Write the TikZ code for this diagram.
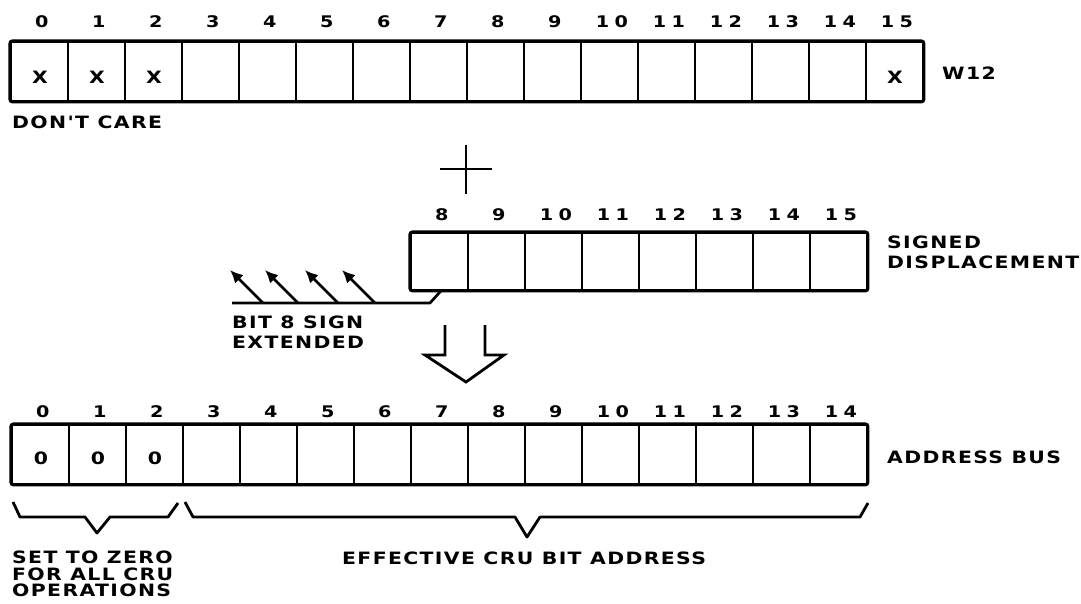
\documentclass[tikz,border=0pt]{standalone}
\usepackage{fontspec}
\usetikzlibrary{arrows.meta,calc}
% wide, heavy lettering for labels and bit numbers
\newfontfamily\lettering{DejaVu Sans Bold}[FakeStretch=1.2,LetterSpace=8]
\newfontfamily\numbering{DejaVu Sans Bold}[FakeStretch=1.2,LetterSpace=34]

\tikzset{
  cell/.style={draw, line width=1.8pt, minimum width=57pt, minimum height=59pt,
               inner sep=0pt, anchor=north west},
  frame/.style={line width=3.2pt, rounded corners=2.5pt},
  lbl/.style={font=\lettering\fontsize{17}{16.5}\selectfont,
              inner sep=0pt, anchor=west, align=left},
  num/.style={font=\numbering\fontsize{16}{16}\selectfont,
              inner sep=0pt, xshift=2.5pt},
  bitval/.style={font=\lettering\fontsize{17}{16}\selectfont,
                 inner sep=0pt, xshift=0.5pt},
  plusline/.style={line width=2.4pt},
  ext/.style={line width=2.7pt, line join=round},
  extarrow/.style={line width=2.7pt, -{Latex[length=13pt,width=12pt]}},
  bigarrow/.style={line width=2.8pt, line join=miter},
  brace/.style={line width=2.8pt, line join=round},
}

\begin{document}
\begin{tikzpicture}[x=1pt,y=-1pt]
\useasboundingbox (0,0) rectangle (1081,603);

% ---- register W12 ----
\foreach \i in {0,...,15}{
  \node[cell] (t\i) at ({10+57*\i},41) {};
  \node[num] (tn\i) at (t\i.north |- 0,22) {\i};
}
\draw[frame] (t0.north west) rectangle (t15.south east);
\foreach \i in {0,1,2,15}
  \node[bitval] (tx\i) at ([yshift=-5.5pt]t\i.center) {X};
\node[lbl] (w12) at (942,73) {W12};
\node[lbl] (dontcare) at (12,122) {DON'T CARE};

% ---- plus sign ----
\coordinate (plus) at (466,169);
\draw[plusline] ($(plus)+(-26,0)$) -- ($(plus)+(26,0)$);
\draw[plusline] ($(plus)+(0,-24)$) -- ($(plus)+(0,25)$);

% ---- signed displacement ----
\foreach \b in {8,...,15}{
  \node[cell, minimum height=57pt] (m\b) at ({410+57*(\b-8)},232) {};
  \node[num] (mn\b) at (m\b.north |- 0,215) {\b};
}
\draw[frame] (m8.north west) rectangle (m15.south east);
\node[lbl, anchor=north west, font=\lettering\fontsize{17}{20}\selectfont]
  (signed) at (887,236) {SIGNED\\DISPLACEMENT};

% ---- sign extension of bit 8 ----
\coordinate (se0) at ($(m8.south west)+(31,0)$);
\coordinate (se1) at (430,303);
\coordinate (se2) at (232,303);
\draw[ext] (se0) -- (se1) -- (se2);
\foreach \x [count=\k] in {263,298,338,375}{
  \coordinate (ab\k) at (\x,303);
  \coordinate (at\k) at ($(ab\k)+(-33,-33)$);
  \draw[extarrow] (ab\k) -- (at\k);
}
\node[lbl, anchor=north west, font=\lettering\fontsize{17}{20}\selectfont]
  (signext) at (232,316) {BIT 8 SIGN\\EXTENDED};

% ---- hollow down arrow ----
\draw[bigarrow] (445,325) -- (445,355) -- (425,355) -- (466,382)
  -- (504,355) -- (485,355) -- (485,325);

% ---- address bus ----
\foreach \k in {0,...,14}{
  \node[cell] (b\k) at ({11+57*\k},424) {};
  \node[num] (bn\k) at (b\k.north |- 0,412) {\k};
}
\draw[frame] (b0.north west) rectangle (b14.south east);
\foreach \k in {0,1,2}
  \node[bitval] (bz\k) at ([yshift=-3.5pt]b\k.center) {0};
\node[lbl] (addrbus) at (887,457) {ADDRESS BUS};

% ---- braces ----
\draw[brace] (13,502) -- (20,517) -- (85,517) -- (97,533) -- (110,517)
  -- (168,517) -- (178,503);
\draw[brace] (185,502) -- (193,517) -- (515,517) -- (527,537) -- (540,517)
  -- (860,517) -- (868,503);
\node[lbl, anchor=north west] (zero) at (12,551) {SET TO ZERO\\FOR ALL CRU\\OPERATIONS};
\node[lbl] (effaddr) at (342,558) {EFFECTIVE CRU BIT ADDRESS};
\end{tikzpicture}
\end{document}
